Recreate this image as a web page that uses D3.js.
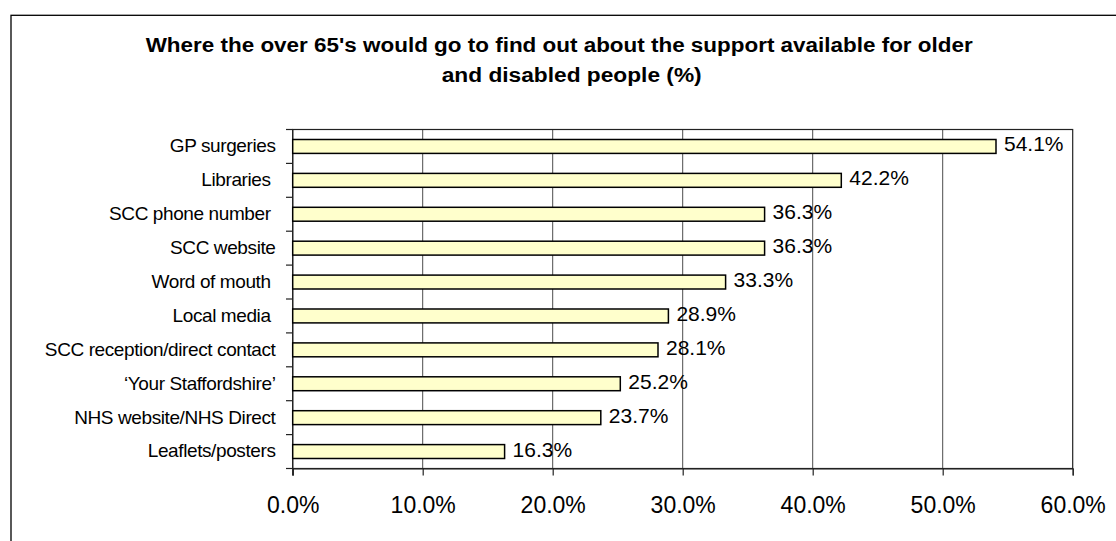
<!DOCTYPE html>
<html>
<head>
<meta charset="utf-8">
<script src="https://cdn.jsdelivr.net/npm/d3@7"></script>
<style>
  html, body { margin: 0; padding: 0; background: #fff; }
  svg { display: block; }
  text { font-family: "Liberation Sans", Arial, sans-serif; fill: #000; }
</style>
</head>
<body>
<svg id="chart" width="1116" height="541"></svg>
<script>
// ---- data ----
const categories = [
  "GP surgeries",
  "Libraries ",
  "SCC phone number ",
  "SCC website",
  "Word of mouth ",
  "Local media ",
  "SCC reception/direct contact",
  "\u2018Your Staffordshire\u2019",
  "NHS website/NHS Direct",
  "Leaflets/posters"
];
const values = [54.1, 42.2, 36.3, 36.3, 33.3, 28.9, 28.1, 25.2, 23.7, 16.3];
const xTicks = [0, 10, 20, 30, 40, 50, 60];
const titleLines = [
  "Where the over 65's would go to find out about the support available for older",
  "and disabled people (%)"
];

// ---- layout ----
const svg = d3.select("#chart");
const pLeft = 292.7, pRight = 1072.7, pTop = 129.5, pBottom = 468.5;

const x = d3.scaleLinear().domain([0, 60]).range([pLeft, pRight]);
const y = d3.scaleBand().domain(categories).range([pTop, pBottom])
  .paddingInner(0.59).paddingOuter(0.295);

// outer frame (extends beyond the window right/bottom)
svg.append("rect")
  .attr("x", 11).attr("y", 15.3).attr("width", 1200).attr("height", 600)
  .attr("fill", "none").attr("stroke", "#000").attr("stroke-width", 1.3);

// title
const titleSpec = [
  { x: 145.7, y: 51.5, len: 827 },
  { x: 441.7, y: 81.5, len: 260 }
];
svg.selectAll("text.title").data(titleLines).join("text")
  .attr("class", "title")
  .attr("x", (d, i) => titleSpec[i].x)
  .attr("y", (d, i) => titleSpec[i].y)
  .attr("textLength", (d, i) => titleSpec[i].len)
  .attr("lengthAdjust", "spacingAndGlyphs")
  .attr("font-size", 20)
  .attr("font-weight", "bold")
  .text(d => d);

// gridlines
svg.append("g").selectAll("line").data(xTicks.slice(1, -1)).join("line")
  .attr("x1", d => x(d)).attr("x2", d => x(d))
  .attr("y1", pTop).attr("y2", pBottom)
  .attr("stroke", "#4d4d4d").attr("stroke-width", 1);

// plot border
svg.append("rect")
  .attr("x", pLeft).attr("y", pTop).attr("width", pRight - pLeft).attr("height", pBottom - pTop)
  .attr("fill", "none").attr("stroke", "#222").attr("stroke-width", 1.2);

// x axis
const xAxis = svg.append("g").attr("transform", `translate(0,${pBottom})`)
  .call(d3.axisBottom(x).tickValues(xTicks).tickSize(7).tickPadding(21)
    .tickFormat(d => d3.format(".1f")(d) + "%"));
xAxis.select(".domain").attr("stroke", "#222").attr("stroke-width", 1.2);
xAxis.selectAll(".tick line").attr("stroke", "#222").attr("stroke-width", 1.2);
xAxis.selectAll(".tick text")
  .attr("font-family", "Liberation Sans, Arial, sans-serif")
  .attr("font-size", 23).attr("fill", "#000").attr("dy", "0.71em");

// y axis (ticks at band boundaries)
const step = y.step();
const boundaries = d3.range(categories.length + 1).map(i => pTop + i * step);
svg.append("g").selectAll("line").data(boundaries).join("line")
  .attr("x1", pLeft - 6.7).attr("x2", pLeft)
  .attr("y1", d => d).attr("y2", d => d)
  .attr("stroke", "#222").attr("stroke-width", 1.2);
svg.append("line")
  .attr("x1", pLeft).attr("x2", pLeft).attr("y1", pTop).attr("y2", pBottom + 7)
  .attr("stroke", "#222").attr("stroke-width", 1.2);

// category labels
svg.append("g").selectAll("text").data(categories).join("text")
  .attr("x", 275.5)
  .attr("y", d => y(d) + y.bandwidth() / 2)
  .attr("dy", "0.31em")
  .attr("text-anchor", "end")
  .attr("font-size", 19)
  .attr("letter-spacing", "-0.4px")
  .style("white-space", "pre")
  .text(d => d);

// bars
svg.append("g").selectAll("rect").data(values).join("rect")
  .attr("x", x(0))
  .attr("y", (d, i) => y(categories[i]))
  .attr("width", d => x(d) - x(0))
  .attr("height", y.bandwidth())
  .attr("fill", "#ffffcc")
  .attr("stroke", "#000")
  .attr("stroke-width", 1.5);

// value labels
svg.append("g").selectAll("text").data(values).join("text")
  .attr("x", d => x(d) + 8)
  .attr("y", (d, i) => y(categories[i]) + y.bandwidth() / 2)
  .attr("dy", "0.24em")
  .attr("font-size", 21)
  .text(d => d3.format(".1f")(d) + "%");
</script>
</body>
</html>
